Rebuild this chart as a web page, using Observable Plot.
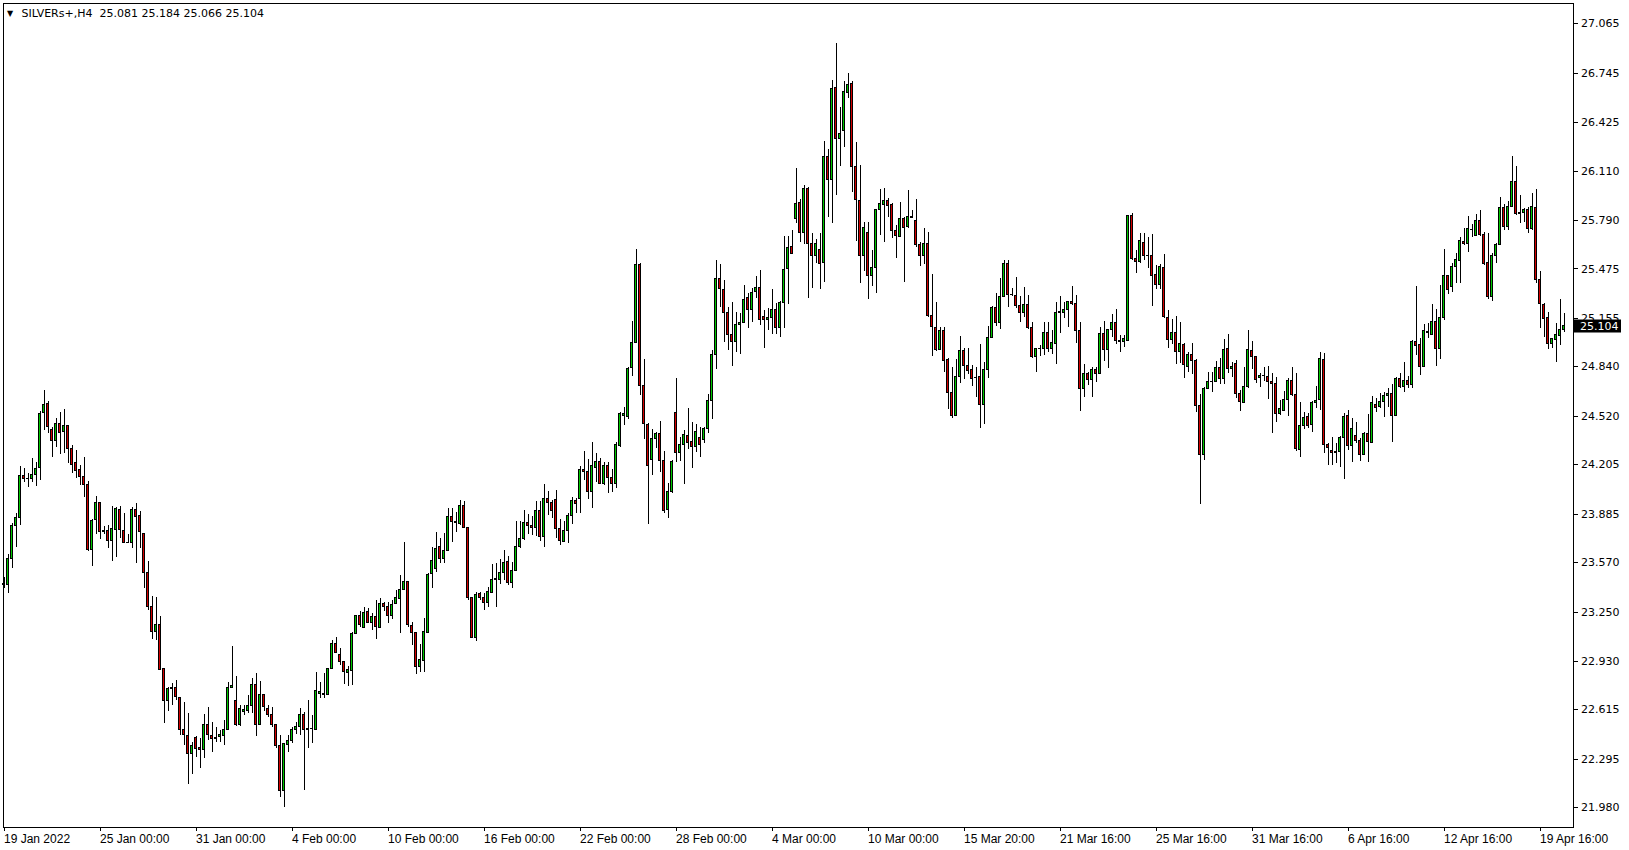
<!DOCTYPE html>
<html><head><meta charset="utf-8">
<script src="https://cdn.jsdelivr.net/npm/d3@7"></script>
<script src="https://cdn.jsdelivr.net/npm/@observablehq/plot@0.6"></script>
<style>html,body{margin:0;padding:0;background:#fff;overflow:hidden}</style>
</head><body><div id="chart"></div>
<script>
const symbolTitle = "SILVERs+,H4";

const opens = [
23.425,23.427,23.595,23.805,23.861,24.134,24.112,24.112,24.140,24.183,
24.542,24.601,24.432,24.359,24.471,24.417,24.454,24.309,24.218,24.173,
24.125,24.075,23.650,23.848,23.959,23.777,23.777,23.710,23.784,23.915,
23.777,23.699,23.699,23.909,23.870,23.758,23.503,23.286,23.120,23.167,
22.878,22.672,22.752,22.759,22.694,22.482,22.448,22.331,22.435,22.366,
22.357,22.519,22.448,22.430,22.439,22.448,22.487,22.759,22.675,22.515,
22.603,22.610,22.642,22.779,22.515,22.714,22.619,22.584,22.519,22.379,
22.089,22.390,22.411,22.482,22.502,22.584,22.482,22.493,22.487,22.720,
22.720,22.709,22.882,23.045,22.973,22.926,22.856,22.867,23.109,23.226,
23.146,23.250,23.180,23.219,23.146,23.304,23.284,23.224,23.301,23.336,
23.394,23.446,23.157,23.113,22.893,22.932,23.113,23.496,23.531,23.669,
23.595,23.649,23.864,23.833,23.822,23.939,23.796,23.342,23.081,23.364,
23.342,23.310,23.375,23.457,23.461,23.505,23.574,23.438,23.518,23.671,
23.721,23.828,23.811,23.794,23.908,23.736,23.984,23.960,23.978,23.790,
23.705,23.774,23.876,23.971,23.984,24.172,24.159,24.027,24.183,24.224,
24.079,24.200,24.118,24.079,24.330,24.522,24.512,24.834,24.996,25.502,
24.717,24.464,24.233,24.373,24.406,24.231,23.913,24.027,24.542,24.282,
24.334,24.391,24.356,24.321,24.378,24.363,24.439,24.616,24.919,25.411,
25.336,25.191,25.048,25.001,25.113,25.126,25.288,25.210,25.325,25.353,
25.165,25.141,25.158,25.210,25.094,25.256,25.476,25.619,25.800,25.904,
25.708,25.991,25.634,25.558,25.595,25.515,26.203,26.053,26.650,26.317,
26.371,26.618,26.676,26.136,25.917,25.558,25.710,25.429,25.482,25.860,
25.893,25.919,25.891,25.724,25.685,25.800,25.750,25.809,25.789,25.631,
25.558,25.638,25.169,25.093,24.952,25.076,24.885,24.671,24.520,24.773,
24.946,24.844,24.823,24.771,24.773,24.594,24.821,25.028,25.223,25.125,
25.296,25.508,25.307,25.303,25.238,25.190,25.244,25.093,24.903,24.957,
24.957,25.063,24.957,24.990,25.191,25.191,25.210,25.260,25.249,25.072,
24.698,24.791,24.756,24.823,24.795,25.055,24.951,25.081,25.126,25.005,
25.003,25.009,25.816,25.537,25.520,25.645,25.558,25.558,25.433,25.373,
25.481,25.159,25.016,25.061,24.936,24.983,24.839,24.919,24.880,24.584,
24.266,24.698,24.741,24.741,24.834,24.763,24.957,24.827,24.859,24.665,
24.604,24.708,24.944,24.903,24.769,24.780,24.773,24.745,24.730,24.535,
24.557,24.626,24.747,24.658,24.302,24.459,24.514,24.466,24.607,24.626,
24.885,24.334,24.295,24.284,24.286,24.380,24.522,24.330,24.395,24.358,
24.271,24.405,24.347,24.594,24.578,24.611,24.648,24.661,24.524,24.762,
24.708,24.751,24.720,25.000,24.983,24.842,25.060,25.050,25.130,24.955,
25.158,25.430,25.357,25.487,25.530,25.653,25.636,25.729,25.692,25.787,
25.696,25.515,25.292,25.560,25.631,25.871,25.750,25.876,26.040,25.832,
25.836,25.858,25.733,25.871,25.404,25.244,25.158,24.989,25.015,25.043,
25.081];

const highs = [
23.476,23.624,23.822,23.887,24.194,24.179,24.147,24.244,24.222,24.551,
24.687,24.616,24.449,24.503,24.542,24.564,24.460,24.331,24.298,24.201,
24.255,24.097,23.848,24.000,23.963,23.807,23.812,23.935,23.930,23.935,
23.892,23.753,23.930,23.952,23.902,23.762,23.578,23.351,23.347,23.222,
22.880,22.759,22.785,22.807,22.699,22.666,22.591,22.407,22.440,22.428,
22.586,22.629,22.536,22.504,22.482,22.547,22.796,23.029,22.833,22.645,
22.645,22.710,22.818,22.850,22.800,22.718,22.645,22.634,22.522,22.450,
22.400,22.450,22.504,22.536,22.623,22.601,22.677,22.580,22.859,22.792,
22.850,22.885,23.066,23.088,23.012,22.930,22.898,23.120,23.228,23.254,
23.282,23.271,23.239,23.325,23.336,23.314,23.310,23.325,23.390,23.487,
23.703,23.450,23.185,23.120,23.038,23.206,23.498,23.671,23.768,23.725,
23.758,23.924,23.920,23.898,23.974,23.967,23.800,23.347,23.375,23.375,
23.373,23.412,23.559,23.563,23.591,23.649,23.611,23.569,23.838,23.838,
23.909,23.880,23.872,23.967,23.967,24.077,24.032,23.973,24.038,23.848,
23.837,23.887,23.991,23.984,24.196,24.293,24.239,24.352,24.280,24.244,
24.222,24.222,24.174,24.352,24.546,24.574,24.838,25.134,25.601,25.508,
24.888,24.470,24.434,24.416,24.486,24.293,24.086,24.233,24.762,24.380,
24.427,24.568,24.481,24.464,24.449,24.449,24.661,24.947,25.530,25.504,
25.401,25.228,25.260,25.195,25.184,25.368,25.318,25.351,25.427,25.465,
25.206,25.217,25.340,25.249,25.264,25.686,25.686,25.725,26.125,25.926,
26.017,26.006,25.708,25.667,25.703,26.302,26.248,26.698,26.935,26.525,
26.691,26.741,26.691,26.293,26.146,25.779,25.779,25.595,25.862,25.990,
26.000,25.930,25.897,25.757,25.904,25.811,25.984,25.854,25.925,25.644,
25.735,25.709,25.437,25.255,25.097,25.097,24.896,24.838,24.888,25.039,
24.957,24.957,24.849,24.838,24.983,24.870,25.102,25.233,25.313,25.411,
25.530,25.530,25.346,25.417,25.298,25.357,25.303,25.130,24.960,24.978,
25.125,25.125,25.076,25.260,25.299,25.260,25.264,25.362,25.303,25.130,
24.856,24.802,24.839,24.834,25.098,25.135,25.085,25.180,25.212,25.044,
25.044,25.822,25.833,25.595,25.708,25.708,25.682,25.699,25.498,25.502,
25.567,25.206,25.145,25.167,25.130,24.990,24.936,24.994,24.888,24.659,
24.709,24.806,24.806,24.877,24.893,25.018,25.050,24.870,24.881,24.687,
24.838,25.076,25.004,24.907,24.799,24.833,24.842,24.795,24.773,24.622,
24.680,24.762,24.833,24.795,24.611,24.542,24.540,24.615,24.712,24.931,
24.929,24.345,24.384,24.345,24.390,24.535,24.557,24.507,24.477,24.373,
24.416,24.529,24.648,24.637,24.665,24.674,24.702,24.723,24.769,24.795,
24.866,24.780,25.011,25.361,25.022,25.115,25.119,25.244,25.210,25.368,
25.599,25.434,25.512,25.577,25.677,25.739,25.815,25.763,25.826,25.854,
25.713,25.707,25.573,25.642,25.940,25.891,25.912,26.204,26.139,25.951,
25.865,25.875,25.966,25.990,25.458,25.253,25.190,25.026,25.119,25.275,
25.184];

const lows = [
23.401,23.368,23.531,23.671,23.812,24.093,24.060,24.093,24.065,24.104,
24.428,24.406,24.255,24.320,24.270,24.281,24.212,24.147,24.114,24.071,
23.991,23.645,23.548,23.751,23.719,23.751,23.660,23.580,23.606,23.725,
23.695,23.693,23.665,23.563,23.660,23.401,23.260,23.070,23.066,22.871,
22.530,22.605,22.644,22.677,22.450,22.385,22.132,22.197,22.305,22.234,
22.299,22.418,22.338,22.407,22.407,22.385,22.485,22.755,22.508,22.508,
22.580,22.595,22.595,22.446,22.512,22.608,22.565,22.504,22.364,22.046,
21.985,22.338,22.396,22.457,22.448,22.093,22.364,22.396,22.485,22.688,
22.688,22.707,22.880,22.980,22.904,22.781,22.764,22.774,23.105,23.152,
23.141,23.178,23.131,23.072,23.141,23.254,23.174,23.202,23.297,23.113,
23.390,23.152,23.033,22.843,22.860,22.860,23.109,23.401,23.505,23.563,
23.563,23.645,23.703,23.768,23.812,23.790,23.325,23.078,23.061,23.325,
23.263,23.282,23.368,23.282,23.429,23.455,23.422,23.405,23.513,23.660,
23.714,23.755,23.746,23.742,23.707,23.666,23.876,23.854,23.729,23.681,
23.699,23.697,23.815,23.887,23.887,24.103,23.978,23.924,24.088,24.075,
24.071,24.017,24.023,24.053,24.319,24.460,24.499,24.780,24.990,24.654,
24.367,23.815,24.135,24.308,24.153,23.891,23.859,24.022,24.222,24.226,
24.075,24.304,24.183,24.287,24.254,24.341,24.406,24.497,24.821,25.228,
25.001,24.947,24.845,24.931,24.918,25.120,25.087,25.126,25.282,25.109,
24.957,25.076,25.048,25.048,25.033,25.087,25.243,25.569,25.768,25.645,
25.634,25.282,25.347,25.509,25.340,25.390,25.811,25.768,25.952,26.142,
26.261,26.579,25.973,25.656,25.383,25.461,25.275,25.364,25.313,25.692,
25.649,25.806,25.670,25.540,25.680,25.385,25.735,25.800,25.616,25.493,
25.504,25.162,24.909,24.942,24.948,24.805,24.563,24.503,24.516,24.730,
24.758,24.788,24.712,24.639,24.438,24.466,24.767,25.026,25.104,25.082,
25.287,25.227,25.296,25.221,25.130,25.162,25.082,24.896,24.805,24.909,
24.914,24.935,24.921,24.856,25.055,25.152,25.098,25.238,24.994,24.553,
24.640,24.720,24.644,24.741,24.790,24.877,24.828,25.033,24.986,24.936,
24.968,25.007,25.530,25.444,25.509,25.530,25.481,25.234,25.342,25.340,
25.156,24.962,24.983,24.856,24.860,24.767,24.806,24.789,24.542,23.946,
24.233,24.694,24.672,24.737,24.726,24.726,24.799,24.769,24.632,24.550,
24.600,24.697,24.823,24.734,24.708,24.747,24.626,24.405,24.477,24.524,
24.552,24.518,24.648,24.291,24.250,24.431,24.438,24.412,24.568,24.557,
24.276,24.200,24.200,24.211,24.189,24.107,24.297,24.217,24.341,24.228,
24.269,24.222,24.343,24.542,24.568,24.514,24.578,24.351,24.520,24.697,
24.676,24.700,24.700,24.914,24.784,24.838,25.022,25.043,24.842,24.885,
25.141,25.309,25.324,25.383,25.383,25.625,25.584,25.681,25.687,25.685,
25.497,25.277,25.266,25.512,25.627,25.724,25.724,25.872,25.821,25.772,
25.778,25.707,25.724,25.383,25.091,25.032,24.952,24.961,24.870,24.978,
25.066];

const closes = [
23.429,23.595,23.805,23.861,24.134,24.112,24.110,24.140,24.179,24.536,
24.594,24.449,24.359,24.471,24.410,24.454,24.309,24.205,24.168,24.125,
24.075,23.650,23.842,23.959,23.768,23.768,23.710,23.790,23.918,23.784,
23.699,23.697,23.909,23.868,23.768,23.503,23.282,23.120,23.167,22.873,
22.670,22.752,22.759,22.699,22.482,22.454,22.331,22.383,22.364,22.357,
22.519,22.454,22.428,22.426,22.450,22.487,22.759,22.772,22.515,22.621,
22.612,22.642,22.779,22.515,22.714,22.634,22.584,22.519,22.381,22.089,
22.396,22.411,22.482,22.502,22.584,22.482,22.493,22.491,22.735,22.729,
22.709,22.882,23.045,22.984,22.926,22.861,22.872,23.109,23.226,23.163,
23.245,23.180,23.219,23.154,23.304,23.282,23.224,23.299,23.343,23.394,
23.444,23.167,23.113,22.893,22.940,23.118,23.492,23.582,23.660,23.595,
23.649,23.868,23.833,23.827,23.937,23.796,23.340,23.081,23.362,23.340,
23.310,23.379,23.459,23.466,23.505,23.569,23.438,23.518,23.673,23.721,
23.829,23.811,23.794,23.908,23.736,23.984,23.958,23.904,23.790,23.712,
23.774,23.876,23.971,23.950,24.172,24.157,24.027,24.200,24.224,24.079,
24.200,24.118,24.079,24.334,24.535,24.535,24.827,24.996,25.504,24.717,
24.468,24.198,24.373,24.408,24.231,23.908,24.029,24.224,24.282,24.334,
24.399,24.347,24.321,24.416,24.334,24.439,24.616,24.919,25.411,25.347,
25.191,25.048,25.001,25.113,25.126,25.271,25.210,25.321,25.353,25.145,
25.141,25.158,25.210,25.094,25.256,25.470,25.612,25.574,25.898,25.708,
25.995,25.634,25.558,25.638,25.509,26.203,26.053,26.644,26.317,26.352,
26.624,26.665,26.136,25.924,25.558,25.742,25.429,25.483,25.860,25.897,
25.919,25.886,25.722,25.687,25.800,25.741,25.811,25.807,25.631,25.558,
25.638,25.169,25.097,24.952,25.076,24.877,24.669,24.520,24.773,24.946,
24.844,24.816,24.762,24.769,24.594,24.821,25.028,25.223,25.125,25.296,
25.508,25.307,25.305,25.233,25.190,25.244,25.093,24.903,24.957,24.959,
25.063,24.957,24.996,25.191,25.193,25.210,25.260,25.245,25.072,24.698,
24.795,24.756,24.823,24.795,25.055,24.951,25.081,25.126,25.005,25.003,
25.018,25.820,25.541,25.520,25.654,25.558,25.556,25.429,25.373,25.491,
25.163,25.016,25.061,24.936,24.990,24.854,24.919,24.877,24.586,24.270,
24.698,24.741,24.743,24.834,24.763,24.951,24.827,24.842,24.665,24.611,
24.708,24.950,24.903,24.756,24.782,24.782,24.741,24.730,24.535,24.568,
24.626,24.747,24.658,24.308,24.459,24.509,24.459,24.607,24.622,24.888,
24.334,24.315,24.282,24.286,24.380,24.518,24.330,24.434,24.360,24.271,
24.405,24.351,24.607,24.574,24.611,24.648,24.661,24.524,24.762,24.708,
24.751,24.720,25.000,24.974,24.842,25.074,25.064,25.130,24.955,25.158,
25.430,25.339,25.489,25.534,25.657,25.636,25.733,25.731,25.787,25.696,
25.508,25.292,25.560,25.631,25.871,25.750,25.876,26.040,25.832,25.836,
25.858,25.733,25.876,25.404,25.249,25.151,24.989,25.022,25.048,25.080,
25.104];

const xTickBars = [0,24,48,72,96,120,144,168,192,216,240,264,288,312,336,360,384];
const xTickLabels = ["19 Jan 2022","25 Jan 00:00","31 Jan 00:00","4 Feb 00:00","10 Feb 00:00",
  "16 Feb 00:00","22 Feb 00:00","28 Feb 00:00","4 Mar 00:00","10 Mar 00:00","15 Mar 20:00",
  "21 Mar 16:00","25 Mar 16:00","31 Mar 16:00","6 Apr 16:00","12 Apr 16:00","19 Apr 16:00"];
const yTicks = [21.980,22.295,22.615,22.930,23.250,23.570,23.885,24.205,24.520,24.840,
  25.155,25.475,25.790,26.110,26.425,26.745,27.065];

const GREEN = "#00c800", RED = "#d20000";
const n = Math.min(opens.length, highs.length, lows.length, closes.length);
const bars = d3.range(n);
const up = bars.filter(i => closes[i] >= opens[i]);
const down = bars.filter(i => closes[i] < opens[i]);
const last = n - 1;
const f3 = v => v.toFixed(3);
const titleText = symbolTitle + "\u00a0\u00a0" + [opens[last], highs[last], lows[last], closes[last]].map(f3).join(" ");

const W = 1629, H = 850, mR = 56.5, mB = 23.5, mL = 2.5, mT = 2.5;
const AXFONT = "'DejaVu Sans', Verdana, sans-serif";
const TFONT = "'Liberation Sans', Arial, sans-serif";

const chart = Plot.plot({
  width: W, height: H,
  marginLeft: mL, marginTop: mT, marginRight: mR, marginBottom: mB,
  style: {background: "white", color: "black", fontFamily: AXFONT, fontSize: "11px", overflow: "visible"},
  x: {type: "linear", domain: [-0.25, 392.25]},
  y: {type: "linear", domain: [21.856, 27.2]},
  marks: [
    Plot.axisY(yTicks, {anchor: "right", tickSize: 4, tickPadding: 4, tickFormat: f3, label: null,
      fontSize: 11, fontFamily: AXFONT, shapeRendering: "crispEdges"}),
    Plot.axisX(xTickBars, {anchor: "bottom", tickSize: 4, tickPadding: 3,
      tickFormat: d => xTickLabels[xTickBars.indexOf(d)], textAnchor: "start", label: null,
      fontSize: 12, fontFamily: TFONT, shapeRendering: "crispEdges"}),
    Plot.ruleX(bars, {x: i => i, y1: i => lows[i], y2: i => highs[i], stroke: "black", strokeWidth: 1, shapeRendering: "crispEdges"}),
    Plot.rect(up, {x1: i => i - 0.25, x2: i => i + 0.25, y1: i => opens[i], y2: i => closes[i], inset: 0,
      fill: GREEN, stroke: "black", strokeWidth: 1, shapeRendering: "crispEdges"}),
    Plot.rect(down, {x1: i => i - 0.25, x2: i => i + 0.25, y1: i => opens[i], y2: i => closes[i], inset: 0,
      fill: RED, stroke: "black", strokeWidth: 1, shapeRendering: "crispEdges"}),
    Plot.frame({stroke: "black", shapeRendering: "crispEdges"}),
    Plot.text(["\u25BC"], {frameAnchor: "top-left", text: d => d, dx: 7, dy: 10.5, textAnchor: "middle", lineAnchor: "middle", fontSize: 8, fontFamily: AXFONT}),
    Plot.text([titleText], {frameAnchor: "top-left", text: d => d, dx: 18.5, dy: 10.5, textAnchor: "start", lineAnchor: "middle", fontSize: 11, fontFamily: AXFONT})
  ]
});

// current price marker on the right axis, positioned with the chart's own y scale
const yPos = chart.scale("y").apply(closes[last]);
const bx = W - mR + 1.5;
const g = d3.select(chart).append("g");
g.append("rect").attr("x", bx).attr("y", Math.round(yPos) - 6.5).attr("width", 47).attr("height", 13).attr("fill", "black");
g.append("text").attr("x", bx + 6).attr("y", yPos).attr("dy", "0.35em").attr("fill", "white")
  .attr("text-anchor", "start").attr("font-family", AXFONT).attr("font-size", 11).text(f3(closes[last]));

document.getElementById("chart").appendChild(chart);
</script>
</body></html>
